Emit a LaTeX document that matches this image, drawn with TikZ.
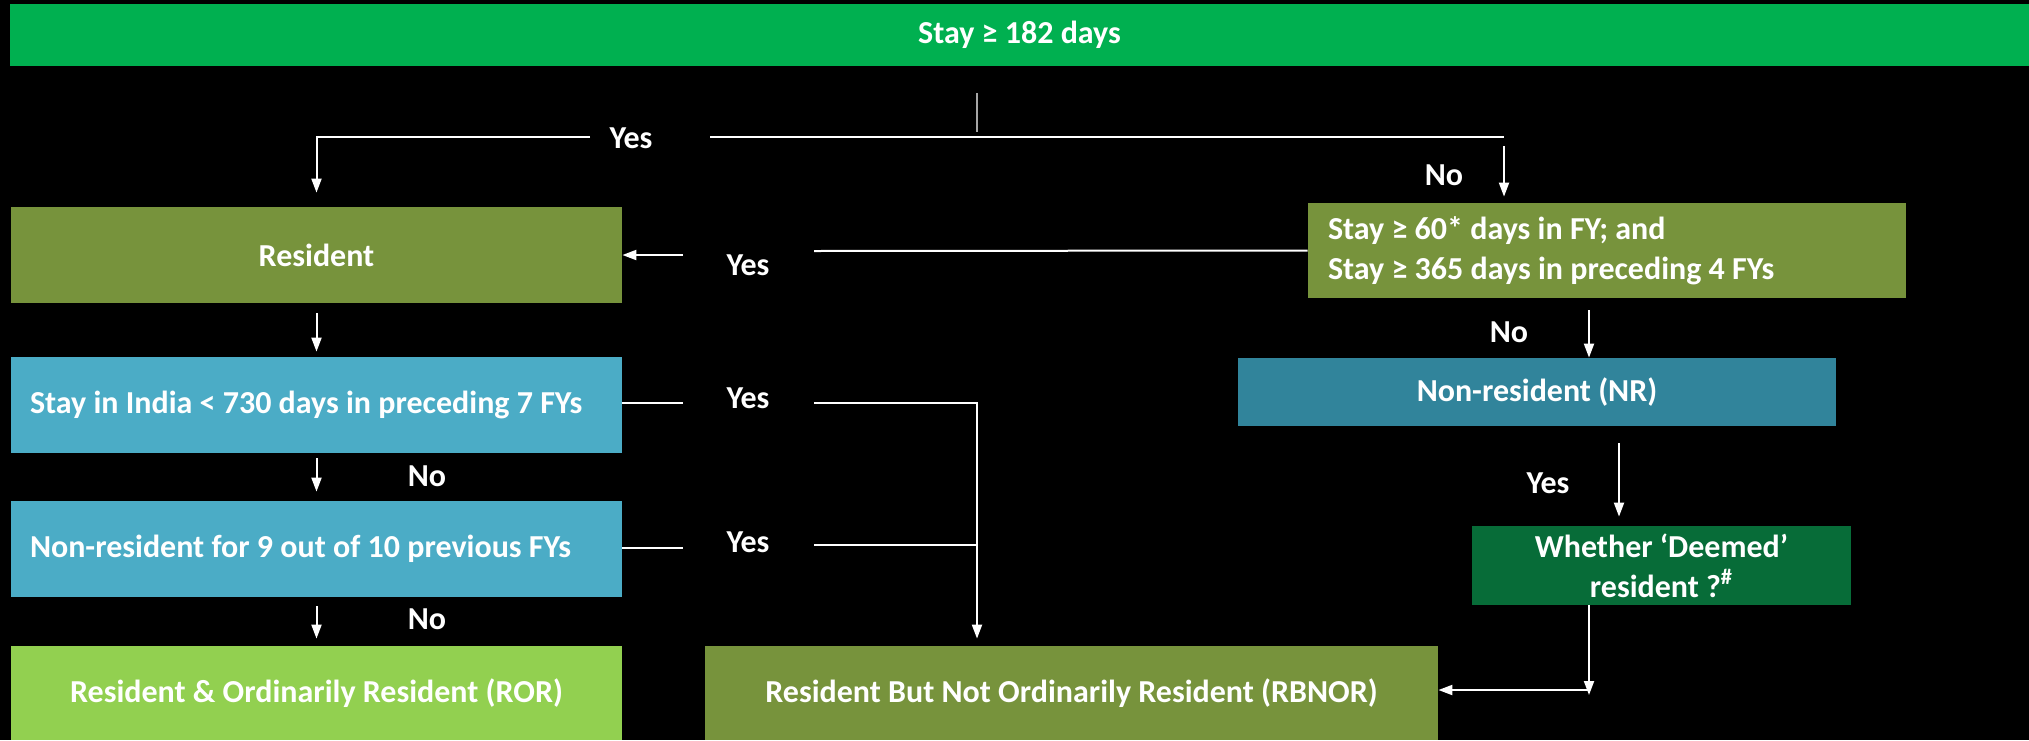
\documentclass[tikz,border=0pt]{standalone}
\usepackage{fontspec}
\setmainfont{Carlito}
\usetikzlibrary{arrows.meta}
\definecolor{topgreen}{HTML}{00B050}
\definecolor{boxolive}{HTML}{77933C}
\definecolor{boxblue}{HTML}{4BACC6}
\definecolor{boxteal}{HTML}{31849B}
\definecolor{boxdark}{HTML}{076C38}
\definecolor{boxlime}{HTML}{92D050}
\tikzset{
  box/.style={rectangle, inner sep=0pt, text=white, align=center, font=\bfseries\fontsize{16}{20}\selectfont},
  leftbox/.style={box, align=flush left, inner ysep=0pt},
  lbl/.style={text=white, inner sep=0pt, font=\bfseries\fontsize{16}{20}\selectfont},
  link/.style={draw=white, line width=1pt},
  arr/.style={link, -{Triangle[length=7pt,width=5pt]}}
}

\begin{document}
\begin{tikzpicture}[x=0.5pt,y=-0.5pt]
  \fill[black] (0,0) rectangle (2029,740);
  \useasboundingbox (0,0) rectangle (2029,740);

  \draw (1019.5,35) node[box,fill=topgreen,minimum width=1009.5pt,minimum height=31pt] (stay) {Stay ≥ 182 days};
  \draw (316.5,255) node[box,fill=boxolive,minimum width=305.5pt,minimum height=48pt] (resident) {Resident};
  \draw (1607,250.5) node[leftbox,fill=boxolive,text width=279pt,inner xsep=10pt,minimum height=47.5pt] (sixty) {Stay ≥ 60* days in FY; and\\Stay ≥ 365 days in preceding 4 FYs};
  \draw (316.5,405) node[leftbox,fill=boxblue,text width=286.5pt,inner xsep=9.5pt,minimum height=48pt] (india) {Stay in India < 730 days in preceding 7 FYs};
  \draw (316.5,549) node[leftbox,fill=boxblue,text width=286.5pt,inner xsep=9.5pt,minimum height=48pt] (nine) {Non-resident for 9 out of 10 previous FYs};
  \draw (316.5,693) node[box,fill=boxlime,minimum width=305.5pt,minimum height=47pt] (ror) {Resident \& Ordinarily Resident (ROR)};
  \draw (1071.5,693) node[box,fill=boxolive,minimum width=366.5pt,minimum height=47pt] (rbnor) {Resident But Not Ordinarily Resident (RBNOR)};
  \draw (1537,392) node[box,fill=boxteal,minimum width=299pt,minimum height=34pt] (nr) {Non-resident (NR)};
  \draw (1661.5,565.5) node[box,fill=boxdark,minimum width=189.5pt,minimum height=39.5pt] (deemed) {Whether ‘Deemed’\\resident ?\textsuperscript{\#}};

  \draw (631,138) node[lbl] (yesA) {Yes};
  \draw (1444,175) node[lbl] (noA) {No};
  \draw (748,265) node[lbl] (yesB) {Yes};
  \draw (748,398) node[lbl] (yesC) {Yes};
  \draw (748,542) node[lbl] (yesD) {Yes};
  \draw (427,476) node[lbl] (noB) {No};
  \draw (427,619) node[lbl] (noC) {No};
  \draw (1509,332) node[lbl] (noD) {No};
  \draw (1548,483) node[lbl] (yesE) {Yes};

  \coordinate (stemtop) at (977,93);
  \coordinate (stembot) at (977,132);
  \coordinate (splitL) at (316.5,137);
  \coordinate (splitR) at (1504,137);
  \coordinate (yesA-l) at (590,137);
  \coordinate (yesA-r) at (710,137);
  \coordinate (noA-top) at (1504,146);
  \coordinate (yesB-l) at (683,255);
  \coordinate (yesB-r) at (814,251);
  \coordinate (yesC-l) at (683,403);
  \coordinate (yesC-r) at (814,403);
  \coordinate (joinC) at (977,403);
  \coordinate (yesD-l) at (683,548);
  \coordinate (yesD-r) at (814,545);
  \coordinate (noD-top) at (1589,310);
  \coordinate (yesE-top) at (1619,443);
  \coordinate (turn) at (1589,690);

  \draw[gray!70,line width=0.6pt] (stemtop) -- (stembot);
  \draw[arr,shorten >=7pt] (yesA-l) -- (splitL) -- (resident);
  \draw[link] (yesA-r) -- (splitR);
  \draw[arr,shorten >=3pt] (noA-top) -- (noA-top |- sixty.north);

  \draw[link] (sixty.west) -- (yesB-r);
  \draw[arr] (yesB-l) -- (resident.east);

  \draw[arr,shorten <=5pt,shorten >=2.5pt] (resident) -- (india);
  \draw[arr,shorten <=2.5pt,shorten >=4.5pt] (india) -- (nine);
  \draw[arr,shorten <=4.5pt,shorten >=3.5pt] (nine) -- (ror);

  \draw[link] (india.east |- yesC-l) -- (yesC-l);
  \draw[arr,shorten >=3.5pt] (yesC-r) -- (joinC) -- (joinC |- rbnor.north);
  \draw[link] (nine.east |- yesD-l) -- (yesD-l);
  \draw[link] (yesD-r) -- (joinC |- yesD-r);

  \draw[arr] (noD-top) -- (noD-top |- nr.north);
  \draw[arr,shorten >=4.5pt] (yesE-top) -- (yesE-top |- deemed.north);
  \draw[arr,shorten >=-2.5pt] (deemed.south -| turn) -- (turn);
  \draw[arr] (turn) -- (turn -| rbnor.east);
\end{tikzpicture}
\end{document}
